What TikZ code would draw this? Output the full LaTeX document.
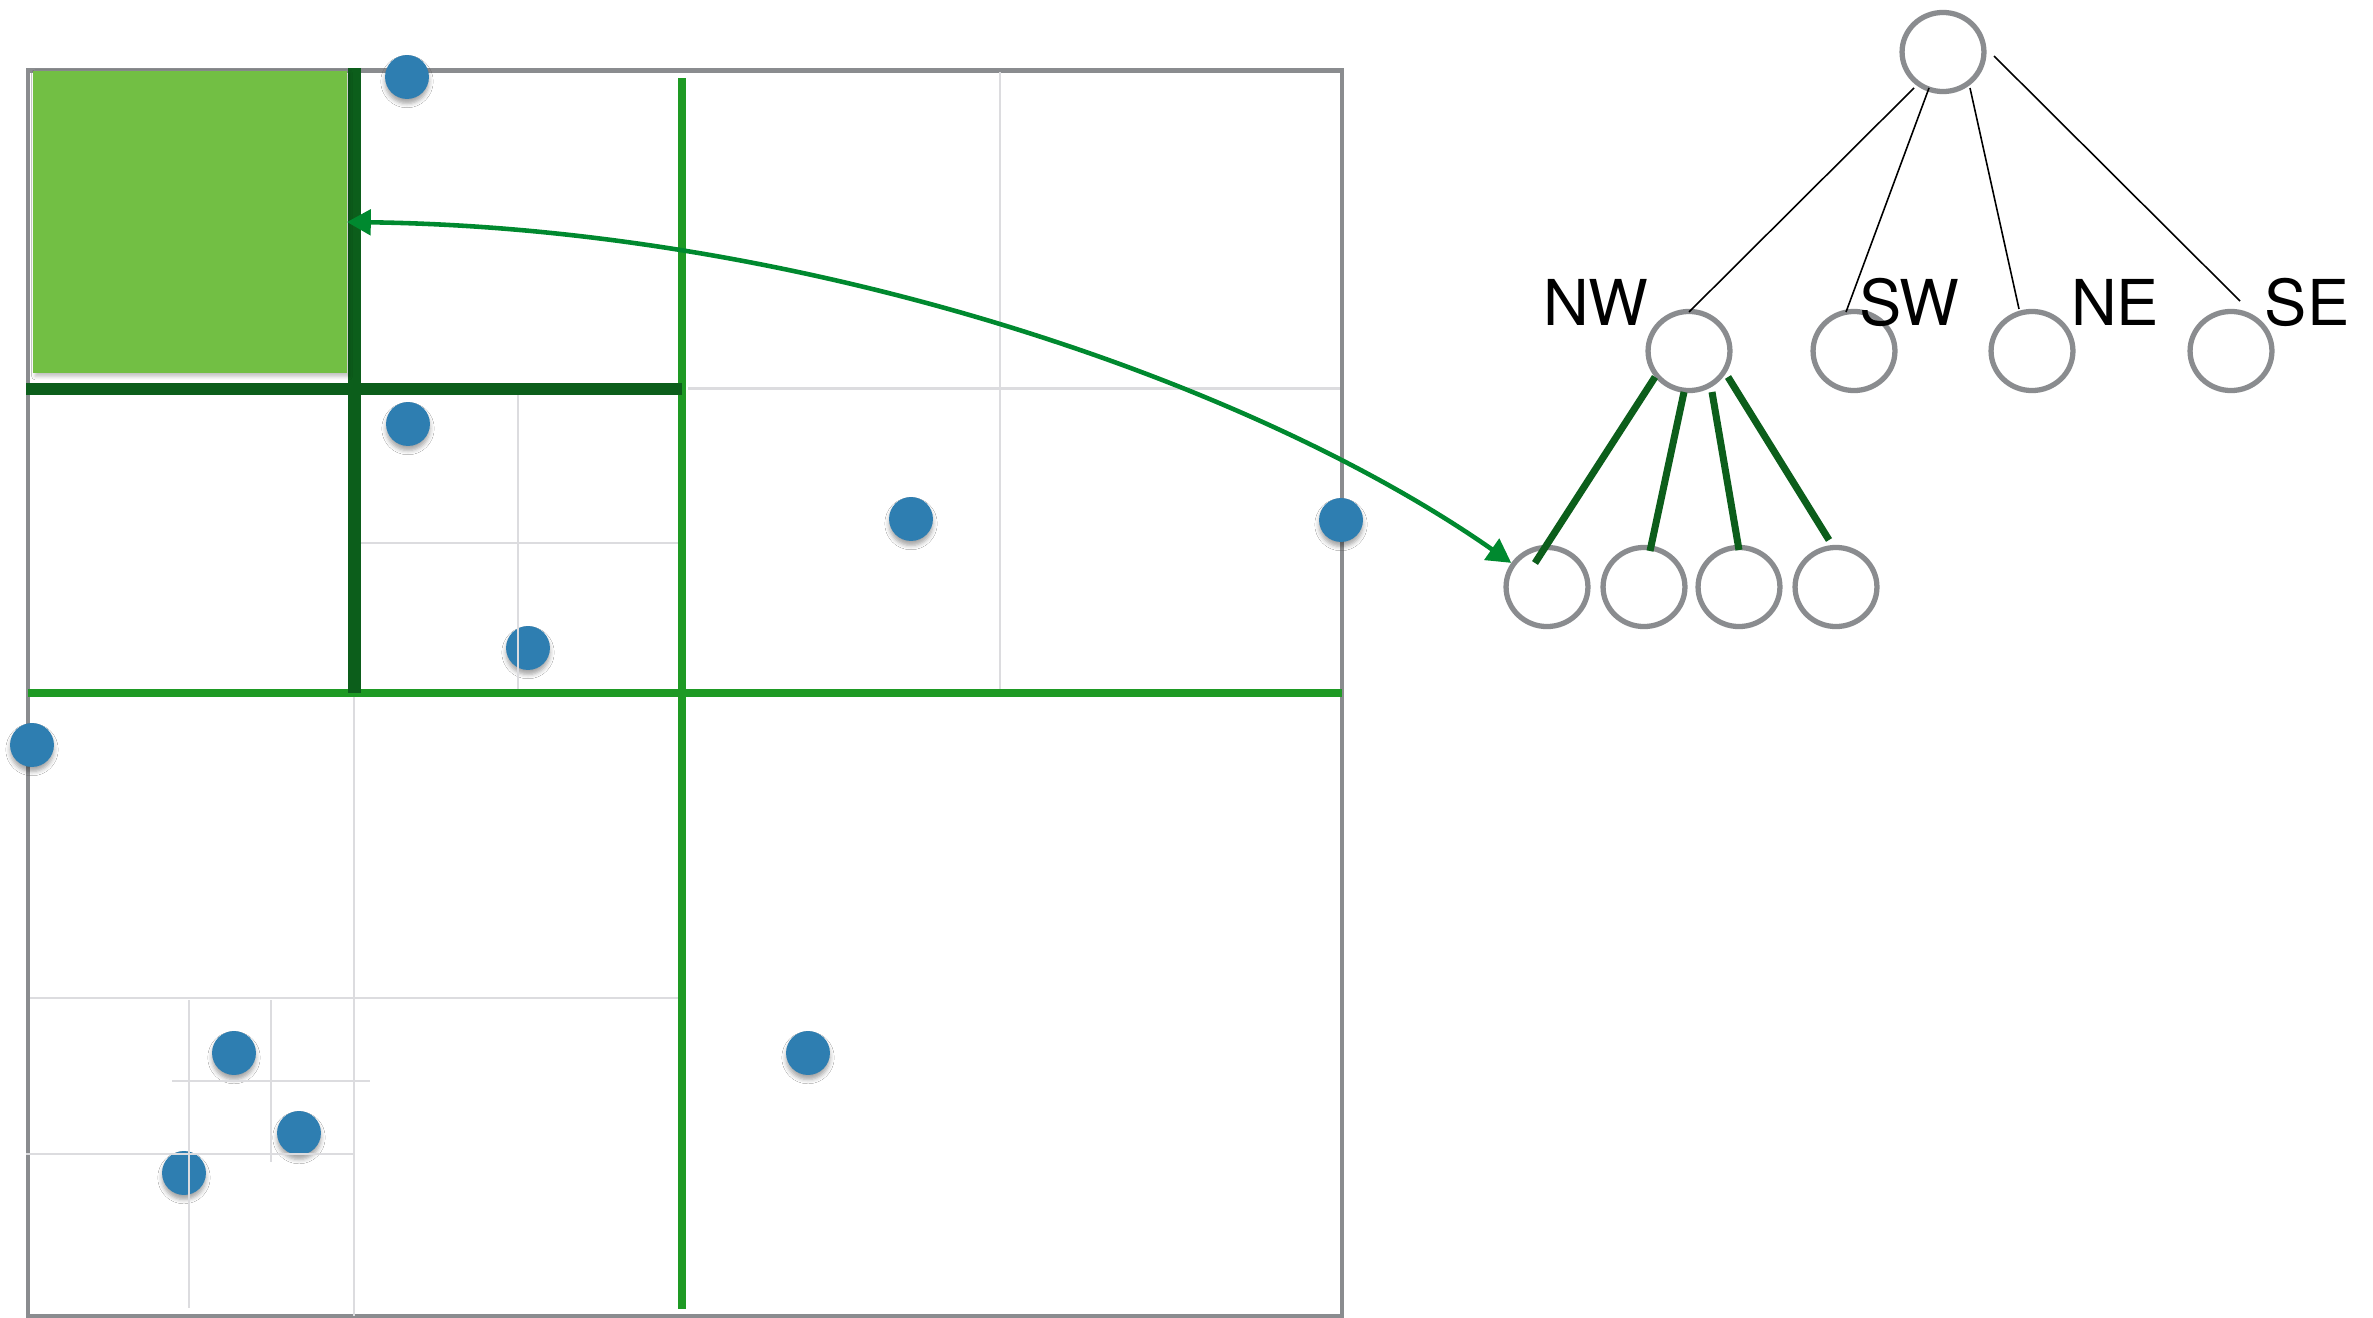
\documentclass[tikz,border=0pt]{standalone}
\usepackage{fontspec}
\setmainfont{TeX Gyre Heros}
\usetikzlibrary{shapes.geometric,arrows.meta,calc,shadows.blur}

\definecolor{framegray}{HTML}{8A8C8F}
\definecolor{gridgray}{HTML}{DCDCDF}
\definecolor{deepgreen}{HTML}{0C5E1B}
\definecolor{splitgreen}{HTML}{1E9A24}
\definecolor{arrowgreen}{HTML}{00892F}
\definecolor{cellgreen}{HTML}{72BF44}
\definecolor{pointblue}{HTML}{2E7EB1}

\begin{document}
\begin{tikzpicture}[x=0.1mm,y=-0.1mm,
  frame/.style={draw=framegray, line width=1.4pt},
  gridline/.style={draw=gridgray, line width=0.65pt},
  splitline/.style={draw=splitgreen, line width=2.1pt},
  deepline/.style={draw=deepgreen, line width=3.5pt},
  point/.style={circle, fill=pointblue, minimum size=12.5pt, inner sep=0pt,
    blur shadow={shadow xshift=0pt, shadow yshift=-1.3pt,
      shadow blur radius=1.2pt, shadow opacity=35}},
  cellbox/.style={rectangle, fill=cellgreen, inner sep=0pt, outer sep=0pt,
    minimum width=89.3pt, minimum height=86.2pt,
    blur shadow={shadow xshift=0.6pt, shadow yshift=-0.8pt,
      shadow blur radius=1pt, shadow opacity=25}},
  treenode/.style={ellipse, draw=framegray, line width=1.5pt, fill=white,
    minimum width=23.3pt, minimum height=22.5pt, inner sep=0pt},
  quadlabel/.style={anchor=base, font=\fontsize{18}{20}\selectfont, inner sep=0pt},
  thinedge/.style={draw=black, line width=0.45pt},
  thickedge/.style={draw=deepgreen, line width=2pt},
  link/.style={draw=arrowgreen, line width=1.3pt,
    {Triangle[length=6.8pt,width=7.2pt]}-{Triangle[length=6.8pt,width=7.2pt]}},
]
% canvas
\fill[white] (0,0) rectangle (2373,1318);
\useasboundingbox (0,0) rectangle (2373,1318);

% outer square of the region
\draw[frame] (28,70.5) rectangle (1342,1316);

% sample points
\node[point] (p1) at (407,77) {};
\node[point] (p2) at (408,424) {};
\node[point] (p3) at (528,648) {};
\node[point] (p4) at (911,519) {};
\node[point] (p5) at (1341,520) {};
\node[point] (p6) at (32,745) {};
\node[point] (p7) at (234,1053) {};
\node[point] (p8) at (299,1133) {};
\node[point] (p9) at (184,1173) {};
\node[point] (p10) at (808,1053) {};

% deeper subdivisions
\draw[gridline] (1000,72) -- (1000,693);
\draw[gridline] (688,388.5) -- (1340,388.5);
\draw[gridline] (518,387) -- (518,695);
\draw[gridline] (354,543) -- (682,543);
\draw[gridline] (354,693) -- (354,1316);
\draw[gridline] (30,998) -- (681,998);
\draw[gridline] (189,1000) -- (189,1308);
\draw[gridline] (26,1154) -- (353,1154);
\draw[gridline] (271,1000) -- (271,1162);
\draw[gridline] (172,1081) -- (370,1081);

% first split
\draw[splitline] (682,78) -- (682,1309);
\draw[splitline] (28,693) -- (1342,693);
% split of the NW quadrant
\draw[deepline] (354.5,68) -- (354.5,693);
\draw[deepline] (26,389) -- (682,389);

% highlighted cell
\node[cellbox] (cell) at (190,222) {};

% tree
\node[treenode] (root) at (1943,52) {};
\node[treenode] (nw) at (1689,351) {};
\node[treenode] (sw) at (1854,351) {};
\node[treenode] (ne) at (2032,351) {};
\node[treenode] (se) at (2231,351) {};
\node[treenode] (l1) at (1547,587) {};
\node[treenode] (l2) at (1644,587) {};
\node[treenode] (l3) at (1739,587) {};
\node[treenode] (l4) at (1836,587) {};

\draw[thinedge] ($(root)+(-29,36)$) -- ($(nw)+(0,-39)$);
\draw[thinedge] ($(root)+(-14,36)$) -- ($(sw)+(-8,-39)$);
\draw[thinedge] ($(root)+(27,36)$) -- ($(ne)+(-13,-42)$);
\draw[thinedge] ($(root)+(51,4)$) -- ($(se)+(9,-50)$);

\draw[thickedge] ($(nw)+(-34,26)$) -- ($(l1)+(-12,-24)$);
\draw[thickedge] ($(nw)+(-5,41)$) -- ($(l2)+(6,-36)$);
\draw[thickedge] ($(nw)+(23,41)$) -- ($(l3)+(0,-37)$);
\draw[thickedge] ($(nw)+(39,26)$) -- ($(l4)+(-7,-47)$);

\node[quadlabel] (lnw) at (1596,325) {NW};
\node[quadlabel] (lsw) at (1909,325) {SW};
\node[quadlabel] (lne) at (2115,325) {NE};
\node[quadlabel] (lse) at (2307,325) {SE};

% cell <-> tree leaf
\draw[link] (cell.east) .. controls (800,228) and (1250,380) .. (l1.146);
\end{tikzpicture}
\end{document}
